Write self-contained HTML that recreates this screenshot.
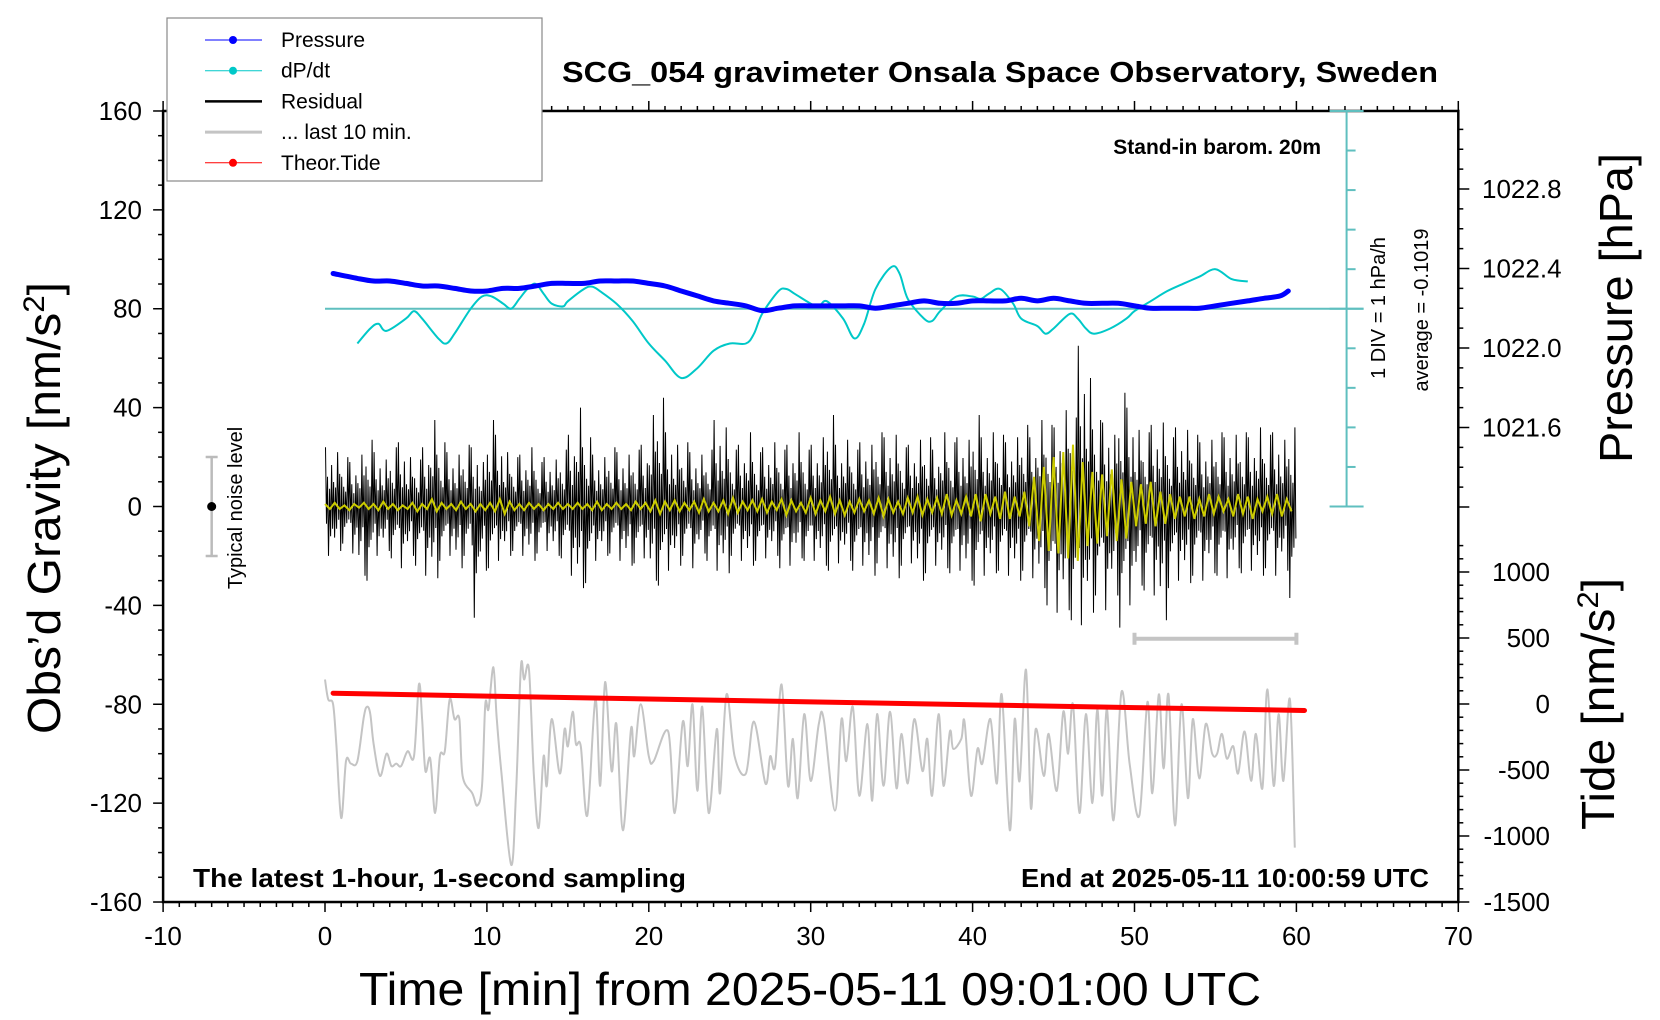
<!DOCTYPE html>
<html><head><meta charset="utf-8"><style>
html,body{margin:0;padding:0;background:#fff;}
svg{display:block;font-family:"Liberation Sans",sans-serif;}
</style></head><body>
<svg id="chart" width="1660" height="1020" viewBox="0 0 1660 1020" xmlns="http://www.w3.org/2000/svg">
<rect x="0" y="0" width="1660" height="1020" fill="#fff"/>
<g id="axes"></g>
<g id="series"></g>
<rect x="167" y="18" width="375" height="163" fill="#fff" stroke="#888" stroke-width="1.2"/>
<g id="legend"></g>
<text x="1000" y="82" text-anchor="middle" font-weight="bold" font-size="29" textLength="876" lengthAdjust="spacingAndGlyphs">SCG_054 gravimeter Onsala Space Observatory, Sweden</text>
<text x="1321" y="154" text-anchor="end" font-weight="bold" font-size="21">Stand-in barom. 20m</text>
<text x="193" y="887" font-weight="bold" font-size="26" textLength="493" lengthAdjust="spacingAndGlyphs">The latest 1-hour, 1-second sampling</text>
<text x="1429" y="887" text-anchor="end" font-weight="bold" font-size="26" textLength="408" lengthAdjust="spacingAndGlyphs">End at 2025-05-11 10:00:59 UTC</text>
<text x="359" y="1005" font-size="46" textLength="902" lengthAdjust="spacingAndGlyphs">Time [min] from 2025-05-11 09:01:00 UTC</text>
<text transform="translate(60,508) rotate(-90)" text-anchor="middle" font-size="46" textLength="452" lengthAdjust="spacingAndGlyphs">Obs’d Gravity [nm/s<tspan font-size="30" dy="-16">2</tspan><tspan dy="16">]</tspan></text>
<text transform="translate(1632,308) rotate(-90)" text-anchor="middle" font-size="46" textLength="310" lengthAdjust="spacingAndGlyphs">Pressure [hPa]</text>
<text transform="translate(1614,704) rotate(-90)" text-anchor="middle" font-size="46" textLength="252" lengthAdjust="spacingAndGlyphs">Tide [nm/s<tspan font-size="30" dy="-16">2</tspan><tspan dy="16">]</tspan></text>
<text transform="translate(242,508) rotate(-90)" text-anchor="middle" font-size="20">Typical noise level</text>
<text transform="translate(1385,308) rotate(-90)" text-anchor="middle" font-size="20">1 DIV = 1 hPa/h</text>
<text transform="translate(1428,310) rotate(-90)" text-anchor="middle" font-size="20">average = -0.1019</text>
</svg>
<script>
// ---- data ----
const xTicks = [-10,0,10,20,30,40,50,60,70];
const yTicks = [-160,-120,-80,-40,0,40,80,120,160];
const pressTicks = [1021.6,1022.0,1022.4,1022.8];
const tideTicks = [-1500,-1000,-500,0,500,1000];
const presT = [0.5,2,3,4,5,6,7,8,9,10,11,12,13,14,15,16,17,18,19,20,21,22,23,24,25,26,27,28,29,30,31,32,33,34,35,36,37,38,39,40,41,42,43,44,45,46,47,48,49,50,51,52,53,54,55,56,57,58,59,59.5];
const presV = [1022.375,1022.350,1022.337,1022.337,1022.325,1022.312,1022.312,1022.300,1022.287,1022.287,1022.300,1022.300,1022.312,1022.325,1022.325,1022.325,1022.337,1022.337,1022.337,1022.325,1022.312,1022.287,1022.262,1022.237,1022.225,1022.212,1022.188,1022.200,1022.212,1022.212,1022.212,1022.212,1022.212,1022.200,1022.212,1022.225,1022.237,1022.225,1022.225,1022.237,1022.237,1022.237,1022.250,1022.237,1022.250,1022.237,1022.225,1022.225,1022.225,1022.212,1022.200,1022.200,1022.200,1022.200,1022.212,1022.225,1022.237,1022.250,1022.262,1022.287];
const dpT = [2,2.8,3.3,3.8,5,5.5,6,7,7.5,8,9,9.7,10.3,11,11.5,12,12.5,13,13.5,14,14.7,15,16,16.5,17,18,19,20,21,22,23,24,25,26,26.5,27,28,28.5,29,30,30.5,31,32,32.7,33.3,34,35,35.5,36,37,37.5,38,39,40,40.5,41,41.7,42.5,43,44,44.5,45,46,46.5,47,47.5,48.5,49.5,50,51,52,53,54,55,56,57];
const dpV = [-0.88,-0.5,-0.38,-0.56,-0.25,-0.06,-0.25,-0.75,-0.88,-0.63,0,0.31,0.31,0.13,0,0.25,0.5,0.63,0.38,0.13,0.06,0.19,0.5,0.56,0.44,0.13,-0.31,-0.88,-1.31,-1.75,-1.5,-1.06,-0.88,-0.88,-0.63,-0.13,0.44,0.5,0.38,0.13,0.06,0.19,-0.25,-0.75,-0.38,0.5,1.06,0.88,0.25,-0.25,-0.31,-0.06,0.31,0.31,0.25,0.38,0.5,0.13,-0.25,-0.44,-0.63,-0.5,-0.13,-0.25,-0.5,-0.63,-0.5,-0.25,-0.06,0.19,0.44,0.63,0.81,1.0,0.75,0.69];
const resMax = [24,22,20,18,21,27,22,19,24,26,20,19,24,35,26,22,21,25,24,18,35,29,22,20,21,24,18,20,19,23,29,40,28,21,20,24,22,21,23,25,37,44,30,25,26,22,21,23,35,32,23,25,30,22,24,26,23,25,30,23,25,28,37,25,27,23,26,25,30,28,29,24,25,27,28,23,30,26,28,27,37,28,30,29,26,28,33,28,35,33,32,39,36,65,52,35,34,29,46,40,31,30,33,34,28,32,31,29,26,27,30,28,29,30,28,32,29,30,27,32];
const resMin = [-20,-18,-15,-19,-28,-30,-20,-18,-21,-25,-20,-24,-28,-29,-22,-20,-25,-20,-45,-26,-25,-22,-20,-18,-20,-22,-19,-18,-20,-21,-28,-33,-31,-22,-20,-19,-22,-24,-23,-21,-30,-32,-26,-24,-20,-25,-19,-22,-26,-27,-20,-22,-24,-22,-21,-20,-25,-24,-21,-22,-22,-24,-26,-23,-22,-26,-24,-28,-23,-25,-29,-24,-23,-30,-27,-24,-25,-27,-26,-30,-32,-28,-27,-26,-28,-30,-26,-29,-33,-40,-43,-42,-46,-48,-43,-36,-42,-36,-49,-40,-32,-34,-36,-46,-33,-30,-31,-28,-30,-27,-28,-29,-25,-27,-26,-28,-25,-28,-26,-37];
const filtV = [1,-1,1.5,-1,0.5,-1.5,1,-0.5,1.5,-1,1,-1.5,2,-1,1,-1.5,0.5,-1,1.5,-2,1,-1,3,-2,1.5,-1,1,-1.5,2,-1,1,-2,1,-1.5,
1.5,-2,3,-3,2,-1.5,1,-1.5,1.5,-1,1,-1.5,1,-1,1.5,-1,1,-1,1.5,-1,1,-1.5,2,-1.5,1,-1,1.5,-1,1,-1.5,2,-1,1.5,
-2,2.5,-3,2,-1.5,2.5,-2,1.5,-1.5,2,-2.5,3,-2,1.5,-2,2.5,-3,3.5,-2.5,2,-1.5,2.5,-2,3,-2.5,2,-1.5,3,-3.5,2.5,-2,1.5,-2.5,
3.5,-3,2.5,-2,4,-3,2.5,-3.5,2,-2.5,3,-2,2.5,-3,3.5,-4,3,-2.5,2,-3,3.5,-2.5,4,-3.5,3,-2.5,3.5,-3,5,-3.5,2.5,-3,4,
-4,5,-6,5,-3,4,-5,6,-5,4,-4,6,-8,
12,-14,16,-18,20,-19,22,-21,25,-22,
18,-16,14,-15,13,-12,15,-14,11,-13,
10,-8,9,-7,10,-8,6,-7,5,-5,
4,-4,4,-5,3,-4,5,-3,4,-2,3,-4,5,-3,4,-5,3,-2,4,-3,5,-4,3,-2];
const grayT = [0,0.2,0.5,0.7,1.0,1.3,1.6,2.0,2.4,2.6,2.8,3.0,3.4,3.8,4.1,4.4,4.7,5.1,5.5,5.8,6.0,6.2,6.5,6.8,7.1,7.4,7.7,8.0,8.3,8.5,9.1,9.4,9.7,9.9,10.1,10.4,10.6,10.9,11.5,11.8,12.1,12.3,12.6,12.9,13.2,13.5,13.7,14.0,14.5,14.8,15.0,15.3,15.5,15.8,16.2,16.7,17.0,17.3,17.7,18.0,18.4,18.9,19.1,19.5,20.0,20.3,21.2,21.6,22.1,22.4,22.7,23.0,23.3,23.7,24.2,24.4,24.8,25.3,26.0,26.5,27.2,27.5,27.8,28.2,28.6,28.9,29.2,29.6,30.0,30.5,30.8,31.5,31.9,32.2,32.6,33.0,33.5,33.8,34.1,34.5,34.9,35.3,35.6,36.0,36.4,36.9,37.2,37.5,37.9,38.2,38.6,38.8,39.3,39.5,39.9,40.3,40.6,41.1,41.5,41.8,42.3,42.6,42.9,43.3,43.6,43.9,44.4,44.7,45.2,45.6,45.9,46.2,46.6,47.0,47.4,47.7,48.0,48.3,48.7,49.2,49.7,50.3,50.8,51.1,51.5,51.8,52.1,52.5,52.9,53.3,53.6,54.0,54.4,54.8,55.1,55.4,55.7,56.1,56.4,56.8,57.2,57.5,57.9,58.2,58.6,58.9,59.2,59.6,59.9];
const grayV = [-70,-78,-80,-96,-126,-103,-104,-103,-85,-81,-84,-96,-109,-100,-105,-104,-105,-99,-101,-72,-86,-107,-102,-124,-101,-99,-78,-86,-86,-109,-116,-121,-113,-80,-82,-65,-85,-108,-145,-116,-65,-70,-66,-109,-130,-101,-113,-86,-108,-90,-97,-83,-96,-97,-125,-78,-113,-71,-107,-88,-131,-90,-101,-80,-101,-103,-91,-124,-87,-105,-80,-115,-81,-124,-90,-116,-76,-101,-108,-87,-112,-101,-105,-72,-113,-94,-118,-84,-111,-88,
-86,-123,-86,-103,-81,-117,-88,-119,-84,-113,-83,-114,-92,-112,-86,-107,-94,-117,-84,-113,-91,-98,-94,-87,-117,-98,-104,-86,-112,-76,-131,-86,-111,-66,-122,-90,-109,-92,-115,-83,-100,-80,-124,-84,-120,-82,-117,-82,-127,-75,-104,-125,-79,-116,-76,-106,-76,-129,-80,-118,-86,-110,-88,-100,-100,-92,-102,-97,-108,-91,-111,-92,-114,-74,-113,-84,-111,-78,-138];
const tideT = [0.5,10,20,30,40,50,60.5];
const tideV = [82,60,38,16,-5,-27,-49];
const noiseRange = [-20,20];
const last10Range = [50,60];
const last10Level = -53.5;
const dpdtZeroT = 63.1;

// ---- scales ----
const xs = t => 325 + t*16.19;
const yg = g => 506.5 - g*2.472;
const yp = p => 189 + (1022.8 - p)*198.75;
const yd = d => yg(80 + d*16);
const yt = v => 704 - v*0.132;
const NS = 'http://www.w3.org/2000/svg';
function mk(tag, attrs, parent){const e=document.createElementNS(NS,tag);for(const k in attrs)e.setAttribute(k,attrs[k]);parent.appendChild(e);return e;}
const axes = document.getElementById('axes');
const series = document.getElementById('series');
const legend = document.getElementById('legend');
const X0=xs(-10), X1=xs(70), Y0=yg(160), Y1=yg(-160);

let el = mk('rect',{x:X0,y:Y0,width:X1-X0,height:Y1-Y0,fill:'none',stroke:'#000','stroke-width':2.5},axes);


for(let t=-10;t<=70;t++){
  const major = t%10===0, L = major?10:5;
  const x = xs(t);
  mk('line',{x1:x,x2:x,y1:Y1,y2:Y1+L,stroke:'#000','stroke-width':1.5},axes);
  mk('line',{x1:x,x2:x,y1:Y0,y2:Y0-L,stroke:'#000','stroke-width':1.5},axes);
}
xTicks.forEach(t=>{
  const e = mk('text',{x:xs(t),y:945,'text-anchor':'middle','font-size':26},axes);
  e.textContent = t;
  
  
});
for(let g=-160; g<=160; g+=10){
  const major = g%40===0, L = major?10:5;
  mk('line',{x1:X0-L,x2:X0,y1:yg(g),y2:yg(g),stroke:'#000','stroke-width':1.5},axes);
}
yTicks.forEach(g=>{
  const e = mk('text',{x:142,y:yg(g)+9,'text-anchor':'end','font-size':26},axes);
  e.textContent = g;
  
  
});
for(let i=0;i<=19;i++){
  const p = 1021.2 + i*0.1;
  const major = Math.abs(((p-1021.2)/0.4) - Math.round((p-1021.2)/0.4))<1e-6;
  mk('line',{x1:X1,x2:X1+(major?11:5),y1:yp(p),y2:yp(p),stroke:'#000','stroke-width':1.5},axes);
}
pressTicks.forEach(p=>{
  const e = mk('text',{x:1482,y:yp(p)+9,'font-size':26},axes);
  e.textContent = p.toFixed(1);
  
  
});
for(let v=-1500; v<=1200; v+=100){
  const major = v%500===0;
  mk('line',{x1:X1,x2:X1+(major?11:5),y1:yt(v),y2:yt(v),stroke:'#000','stroke-width':1.5},axes);
}
tideTicks.forEach(v=>{
  const e = mk('text',{x:1550,y:yt(v)+9,'text-anchor':'end','font-size':26},axes);
  e.textContent = v;
  
  
});

const tx = xs(dpdtZeroT);
el = mk('line',{x1:tx,x2:tx,y1:yd(5),y2:yd(-5),stroke:'#5fbfbf','stroke-width':2},series);


for(let d=-5; d<=5; d++){
  const end = (d===5||d===-5||d===0);
  mk('line',{x1:end?tx-17:tx,x2:tx+(end?17:9),y1:yd(d),y2:yd(d),stroke:'#5fbfbf','stroke-width':2},series);
}
el = mk('line',{x1:xs(0),x2:tx+17,y1:yd(0),y2:yd(0),stroke:'#5fbfbf','stroke-width':2},series);



const nx = xs(-7);
el = mk('path',{d:`M${nx},${yg(noiseRange[0])}V${yg(noiseRange[1])}M${nx-6},${yg(noiseRange[0])}h12M${nx-6},${yg(noiseRange[1])}h12`,stroke:'#bbb','stroke-width':2.5,fill:'none'},series);


el = mk('circle',{cx:nx,cy:yg(0),r:4.5,fill:'#000'},series);



// residual
let d = '';
const facA = [1,-0.35,0.5,-1,0.3,-0.6,0.7,-0.45];
const facB = [0.45,-0.7,0.35,-0.5,1,-0.3,0.6,-1];
const facC = [0.6,-1,0.4,-0.55,0.3,-0.45,1,-0.35];
const facs = [facA,facB,facC];
resMax.forEach((mx,i)=>{
  const mn = resMin[i];
  const fac = facs[i%3];
  fac.forEach((f,j)=>{
    const t = i*0.5 + (j+0.5)*0.0625;
    const v = f>0 ? mx*f : -mn*f;
    d += (d?'L':'M') + xs(t).toFixed(1)+','+yg(v).toFixed(1);
  });
});
el = mk('path',{d:d,stroke:'#000','stroke-width':1,fill:'none'},series);



d = filtV.map((v,i)=>(i?'L':'M')+xs(i*0.3).toFixed(1)+','+yg(v).toFixed(1)).join('');
el = mk('path',{d:d,stroke:'#cccc00','stroke-width':2,fill:'none'},series);



function smooth(pts){
  let s='M'+pts[0][0].toFixed(1)+','+pts[0][1].toFixed(1);
  for(let i=0;i<pts.length-1;i++){
    const p0=pts[Math.max(0,i-1)],p1=pts[i],p2=pts[i+1],p3=pts[Math.min(pts.length-1,i+2)];
    const c1=[p1[0]+(p2[0]-p0[0])/6,p1[1]+(p2[1]-p0[1])/6];
    const c2=[p2[0]-(p3[0]-p1[0])/6,p2[1]-(p3[1]-p1[1])/6];
    s+='C'+c1[0].toFixed(1)+','+c1[1].toFixed(1)+' '+c2[0].toFixed(1)+','+c2[1].toFixed(1)+' '+p2[0].toFixed(1)+','+p2[1].toFixed(1);
  }
  return s;
}
el = mk('path',{d:smooth(grayT.map((t,i)=>[xs(t),yg(grayV[i])])),stroke:'#c4c4c4','stroke-width':2,fill:'none'},series);


const ly = yg(last10Level), lx0 = xs(last10Range[0]), lx1 = xs(last10Range[1]);
el = mk('path',{d:`M${lx0},${ly}H${lx1}M${lx0},${ly-6}v12M${lx1},${ly-6}v12`,stroke:'#c4c4c4','stroke-width':4,fill:'none'},series);


d = tideT.map((t,i)=>(i?'L':'M')+xs(t).toFixed(1)+','+yt(tideV[i]).toFixed(1)).join('');
el = mk('path',{d:d,stroke:'#ff0000','stroke-width':5,fill:'none','stroke-linecap':'round'},series);


el = mk('path',{d:smooth(dpT.map((t,i)=>[xs(t),yd(dpV[i])])),stroke:'#00c8c8','stroke-width':2,fill:'none'},series);


el = mk('path',{d:smooth(presT.map((t,i)=>[xs(t),yp(presV[i])])),stroke:'#0000ff','stroke-width':5,fill:'none','stroke-linecap':'round'},series);



const legItems = [
  ['Pressure','#0000ff',1,true],
  ['dP/dt','#00c8c8',1,true],
  ['Residual','#000',2.5,false],
  ['... last 10 min.','#c4c4c4',3,false],
  ['Theor.Tide','#ff0000',1,true]
];
legItems.forEach((it,i)=>{
  const y = 40 + i*30.7;
  const g = mk('g',{},legend);
  
  
  mk('line',{x1:205,x2:262,y1:y,y2:y,stroke:it[1],'stroke-width':it[2]},g);
  if(it[3]) mk('circle',{cx:233,cy:y,r:4,fill:it[1]},g);
  const tEl = mk('text',{x:281,y:y+7,'font-size':21},g);
  tEl.textContent = it[0];
});
</script>
</body></html>
